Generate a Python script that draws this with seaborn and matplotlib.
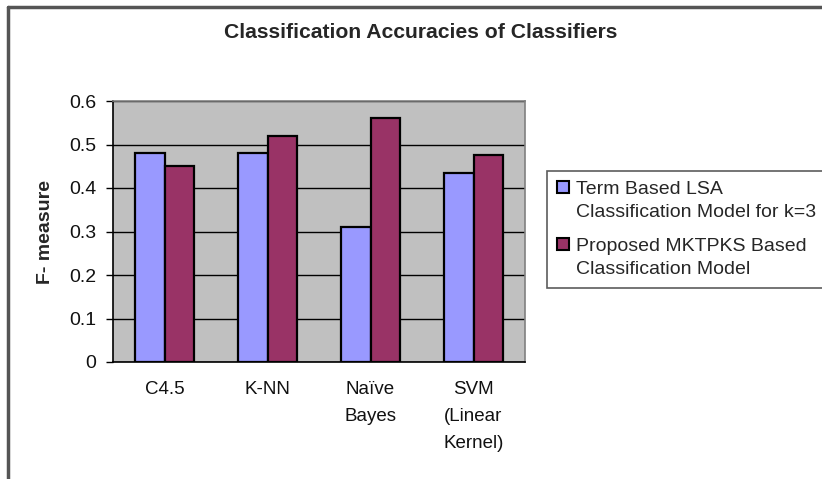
import matplotlib
matplotlib.use('Agg')
import matplotlib.pyplot as plt
from matplotlib.lines import Line2D
from matplotlib.patches import Patch, Rectangle
from matplotlib.legend_handler import HandlerPatch
import seaborn as sns
import pandas as pd

# data
classifiers = ['C4.5', 'K-NN', 'Naïve\nBayes', 'SVM\n(Linear\nKernel)']
series_names = ['Term Based LSA\nClassification Model for k=3',
                'Proposed MKTPKS Based\nClassification Model']
lsa_values = [0.48, 0.48, 0.31, 0.435]
mktpks_values = [0.45, 0.52, 0.56, 0.475]
y_ticks = [0, 0.1, 0.2, 0.3, 0.4, 0.5, 0.6]
colors = ['#9999FF', '#993366']

df = pd.DataFrame({
    'classifier': classifiers * 2,
    'model': [series_names[0]] * 4 + [series_names[1]] * 4,
    'value': lsa_values + mktpks_values,
})

sns.set_style('white')
plt.rcParams['font.family'] = ['Liberation Sans', 'DejaVu Sans']


class TopSquare(HandlerPatch):
    # small square lined up with the first line of a two-line label
    def create_artists(self, legend, orig_handle, xdescent, ydescent,
                       width, height, fontsize, trans):
        s = fontsize * 0.62
        y = -ydescent + height / 2 - s / 2 + fontsize * 0.72
        p = Rectangle((-xdescent, y), s, s, facecolor=orig_handle.get_facecolor(),
                      edgecolor='black', linewidth=1.5, transform=trans)
        return [p]


fig = plt.figure(figsize=(8.22, 4.79), dpi=100)
ax = fig.add_axes([113 / 822, 1 - 362 / 479, (525 - 113) / 822, (362 - 101) / 479])

sns.barplot(data=df, x='classifier', y='value', hue='model',
            palette=colors, saturation=1, width=0.58,
            edgecolor='black', linewidth=1.6, ax=ax, zorder=3)

ax.set_facecolor('#C0C0C0')
ax.set_ylim(0, 0.6)
ax.set_xlim(-0.5, 3.5)
ax.set_yticks(y_ticks)
ax.set_yticklabels(['0', '0.1', '0.2', '0.3', '0.4', '0.5', '0.6'], fontsize=14)
ax.yaxis.grid(True, color='black', linewidth=1, zorder=0)
ax.set_axisbelow(True)

ax.tick_params(axis='x', which='major', length=0, labelsize=13.5, pad=14)
for lbl in ax.get_xticklabels():
    lbl.set_linespacing(1.75)
ax.set_xticks([-0.5, 0.5, 1.5, 2.5, 3.5], minor=True)
ax.tick_params(axis='x', which='minor', length=5, width=1, color='black', direction='out')
ax.tick_params(axis='y', length=5, width=1, color='black', direction='out', left=True, pad=7)
ax.tick_params(axis='both', labelcolor='#111111')

for side in ['left', 'bottom']:
    ax.spines[side].set_color('black')
    ax.spines[side].set_linewidth(1.2)
for side in ['top', 'right']:
    ax.spines[side].set_color('#808080')
    ax.spines[side].set_linewidth(1.2)

ax.set_xlabel('')
ax.set_ylabel('F- measure', fontsize=14, fontweight='bold', labelpad=11)

fig.text(421 / 822, 1 - 32 / 479, 'Classification Accuracies of Classifiers',
         ha='center', va='center', fontsize=15.2, fontweight='bold')

ax.legend_.remove()
handles = [Patch(facecolor=c) for c in colors]
leg = fig.legend(handles, series_names, loc='upper left',
                 bbox_to_anchor=(547 / 822, 1 - 171 / 479),
                 fontsize=14, frameon=True, fancybox=False,
                 borderpad=0.5, handlelength=0.65, handletextpad=0.35,
                 labelspacing=0.85, borderaxespad=0,
                 handler_map={Patch: TopSquare()})
leg.get_frame().set_edgecolor('#333333')
leg.get_frame().set_linewidth(1.2)
for t in leg.get_texts():
    t.set_linespacing(1.5)

# outer chart frame (left and top lines)
fig.add_artist(Line2D([8 / 822, 8 / 822], [0, 1 - 7 / 479], color='#555555', linewidth=2.5,
                      transform=fig.transFigure))
fig.add_artist(Line2D([8 / 822, 1], [1 - 7 / 479, 1 - 7 / 479], color='#555555', linewidth=2.5,
                      transform=fig.transFigure))

fig.savefig('out.png', dpi=100, facecolor='white')
